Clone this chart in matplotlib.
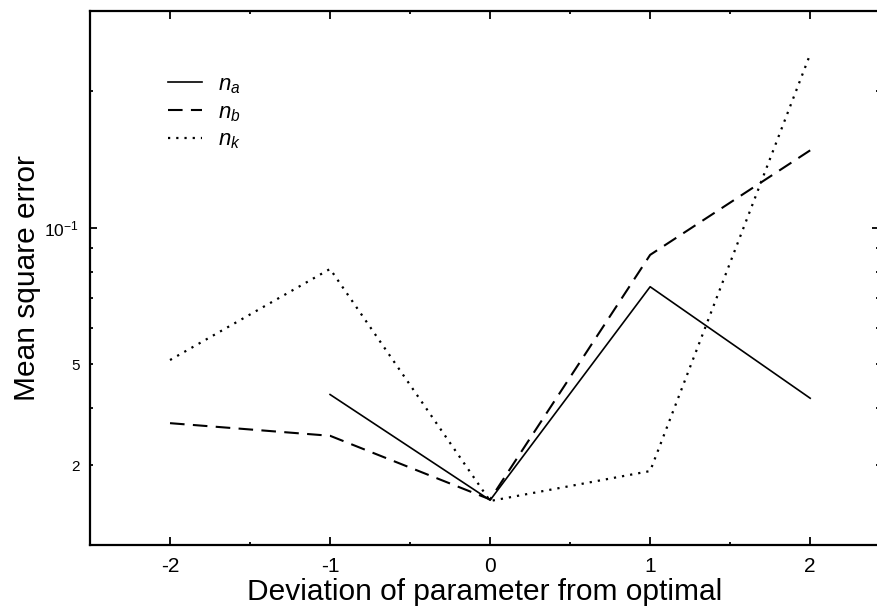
import numpy as np
import matplotlib
matplotlib.use("Agg")
import matplotlib.pyplot as plt
from matplotlib.ticker import FixedLocator, FuncFormatter

plt.rcParams["font.family"] = ["Liberation Sans", "DejaVu Sans"]
plt.rcParams["mathtext.fontset"] = "custom"
plt.rcParams["mathtext.rm"] = "Liberation Sans"
plt.rcParams["mathtext.it"] = "Liberation Sans:italic"
plt.rcParams["axes.unicode_minus"] = False

# deviation of parameter from optimal
dev_a = [-1, 0, 1, 2]
dev_bk = [-2, -1, 0, 1, 2]

# mean square error per parameter
mse_na = [0.0429, 0.0251, 0.0741, 0.0421]
mse_nb = [0.0371, 0.0348, 0.0252, 0.0871, 0.148]
mse_nk = [0.0511, 0.0811, 0.0250, 0.0291, 0.241]

xtick_major = [-2, -1, 0, 1, 2]
xtick_labels = ["-2", "-1", "0", "1", "2"]
xtick_minor = [-1.5, -0.5, 0.5, 1.5]

# y ticks as printed on the chart (only 10^-1 gets a long tick)
ytick_major = [0.1]
ytick_minor = [0.2, 0.09, 0.08, 0.07, 0.06, 0.05, 0.04, 0.03]
ytick_text = {0.05: "5", 0.03: "2"}

fig = plt.figure(figsize=(8.78, 6.09), dpi=100)
ax = fig.add_axes([90 / 878, 64 / 609, 789 / 878, 534 / 609])

ax.plot(dev_a, mse_na, color="black", lw=1.2, label="$n_a$")
ax.plot(dev_bk, mse_nb, color="black", lw=1.5, dashes=(7, 4), label="$n_b$")
ax.plot(dev_bk, mse_nk, color="black", lw=1.6, dashes=(1, 2.7), label="$n_k$")

ax.set_yscale("log")
ax.set_xlim(-2.5, 2.43)
ax.set_ylim(0.02, 0.3)

ax.set_xticks(xtick_major, xtick_labels)
ax.set_xticks(xtick_minor, minor=True)
ax.yaxis.set_major_locator(FixedLocator(ytick_major))
ax.yaxis.set_major_formatter(FuncFormatter(lambda v, p: "$10^{-1}$"))
ax.yaxis.set_minor_locator(FixedLocator(ytick_minor))
ax.yaxis.set_minor_formatter(
    FuncFormatter(lambda v, p: next((s for k, s in ytick_text.items() if abs(k - v) < 1e-9), "")))

ax.tick_params(which="both", direction="in", top=True, right=True, color="black")
ax.tick_params(axis="x", which="major", length=6, width=1.3, labelsize=15, pad=9)
ax.tick_params(axis="x", which="minor", length=2.5, width=1.3)
ax.tick_params(axis="y", which="major", length=5, width=1.3, labelsize=12.5, pad=8)
ax.tick_params(axis="y", which="minor", length=2, width=1.3, labelsize=11, pad=7.5)

for sp in ax.spines.values():
    sp.set_linewidth(1.6)

ax.set_xlabel("Deviation of parameter from optimal", fontsize=21.5, labelpad=1)
ax.set_ylabel("Mean square error", fontsize=21.5, labelpad=2.5)

ax.legend(loc="upper left", bbox_to_anchor=(0.073, 0.919), frameon=False,
          fontsize=16, handlelength=1.55, handletextpad=0.7, labelspacing=0.28)

fig.savefig("out.png", dpi=100)
